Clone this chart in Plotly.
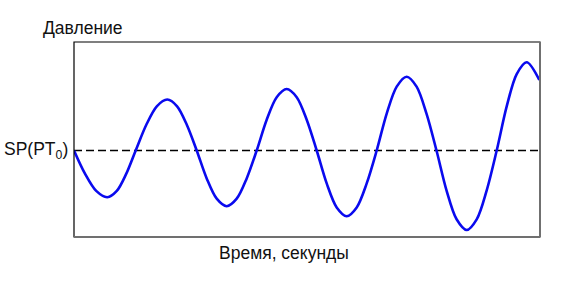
import plotly.graph_objects as go

# time (arbitrary units) and pressure deviation from set point
time = [0, 1.11, 2.22, 3.33, 4.28, 5.22, 6.17,
        7.22, 8.28, 9.33, 10.31, 11.29, 12.27,
        13.27, 14.27, 15.27, 16.27, 17.27, 18.27,
        19.27, 20.27, 21.27, 22.27, 23.27, 24.27,
        25.27, 26.27, 27.27, 28.27, 29.27, 30.27,
        31.27, 32.27, 33.27, 34.26, 35.25, 36.25,
        37.25, 38.26, 39.27, 40.27, 41.27, 42.27,
        43.27, 44.27, 45.27, 46.53]
pressure = [0, -2.34, -4.04, -4.67, -4.04, -2.34, 0,
            2.55, 4.42, 5.1, 4.42, 2.55, 0,
            -2.79, -4.82, -5.57, -4.82, -2.79, 0,
            3.08, 5.33, 6.15, 5.33, 3.08, 0,
            -3.29, -5.69, -6.57, -5.69, -3.29, 0,
            3.69, 6.39, 7.38, 6.39, 3.69, 0,
            -3.98, -6.88, -7.95, -6.88, -3.98, 0,
            4.41, 7.64, 8.82, 7.05]
setpoint = 0
x_range = [0, 46.6]
y_range = [-8.65, 10.85]

fig = go.Figure()
fig.add_trace(go.Scatter(
    x=time, y=pressure, mode="lines",
    line=dict(color="#0a0aee", width=2.6, shape="spline", smoothing=0.9),
    hoverinfo="skip", showlegend=False,
))

fig.add_shape(type="line", xref="x", yref="y", x0=x_range[0], x1=x_range[1], y0=setpoint, y1=setpoint,
              line=dict(color="black", width=1.3, dash="8px,4px"), layer="below")
# frame
fig.add_shape(type="rect", xref="paper", yref="paper", x0=0, x1=1, y0=0, y1=1,
              line=dict(color="black", width=1.2))
fig.add_shape(type="line", xref="paper", yref="paper", x0=0, x1=1, y0=0, y1=0,
              line=dict(color="#707070", width=2))
fig.add_shape(type="line", xref="paper", yref="paper", x0=1, x1=1, y0=0, y1=1,
              line=dict(color="#707070", width=2))

font = dict(family="Liberation Sans, Arial, sans-serif", size=17.5, color="#111111")
fig.add_annotation(text="Давление", xref="paper", yref="paper", x=-0.07, y=1.0,
                   xanchor="left", yanchor="bottom", yshift=2, showarrow=False, font=font)
fig.add_annotation(text="SP(PT<sub>0</sub>)", xref="paper", yref="y", x=0, y=setpoint,
                   xanchor="right", yanchor="middle", xshift=-4, showarrow=False, font=font)
fig.add_annotation(text="Время, секунды", xref="paper", yref="paper", x=0.4517, y=0,
                   xanchor="center", yanchor="top", yshift=-4, showarrow=False, font=font)

fig.update_xaxes(range=x_range, visible=False)
fig.update_yaxes(range=y_range, visible=False)
fig.update_layout(
    width=587, height=286,
    margin=dict(l=74, r=47, t=42, b=49),
    plot_bgcolor="white", paper_bgcolor="white",
)
fig.write_html("out.html")
